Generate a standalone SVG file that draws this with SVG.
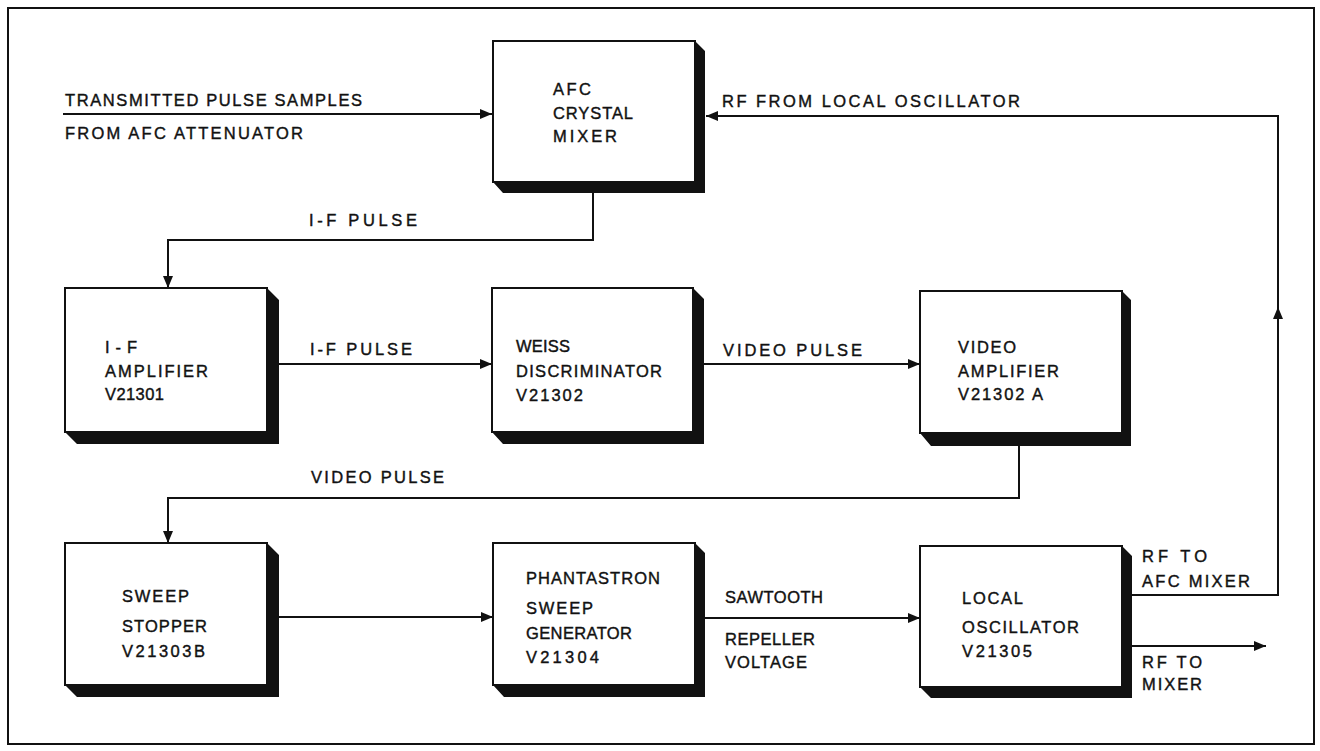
<svg xmlns="http://www.w3.org/2000/svg" width="1320" height="751" viewBox="0 0 1320 751">
<style>
text{font-family:"Liberation Sans",Arial,sans-serif;font-size:16.5px;fill:#111;stroke:#111;stroke-width:0.4}
.box{fill:#fff;stroke:#111;stroke-width:2}
.sh{fill:#111}
.ln{fill:none;stroke:#111;stroke-width:2}
</style>
<defs>
<marker id="ah" viewBox="0 0 12 10" refX="12" refY="5" markerWidth="12" markerHeight="10" markerUnits="userSpaceOnUse" orient="auto">
<path d="M0,0 L12,5 L0,10 z" fill="#111"/>
</marker>
</defs>
<rect x="0" y="0" width="1320" height="751" fill="#fff"/>
<rect x="8" y="8" width="1306" height="736" fill="none" stroke="#111" stroke-width="2"/>

<g id="connectors">
<line class="ln" x1="63" y1="114" x2="492" y2="114" marker-end="url(#ah)"/>
<polyline class="ln" points="1132,595 1278,595 1278,116 706,116" marker-end="url(#ah)"/>
<line class="ln" x1="1278" y1="400" x2="1278" y2="307" marker-end="url(#ah)"/>
<polyline class="ln" points="593,193 593,240 168,240 168,288" marker-end="url(#ah)"/>
<line class="ln" x1="279" y1="364" x2="492" y2="364" marker-end="url(#ah)"/>
<line class="ln" x1="704" y1="364" x2="920" y2="364" marker-end="url(#ah)"/>
<polyline class="ln" points="1019,446 1019,498 168,498 168,543" marker-end="url(#ah)"/>
<line class="ln" x1="279" y1="617" x2="493" y2="617" marker-end="url(#ah)"/>
<line class="ln" x1="705" y1="618" x2="920" y2="618" marker-end="url(#ah)"/>
<line class="ln" x1="1132" y1="646" x2="1266" y2="646" marker-end="url(#ah)"/>
<text x="65" y="106" textLength="297">TRANSMITTED PULSE SAMPLES</text>
<text x="65" y="139" textLength="238">FROM  AFC  ATTENUATOR</text>
<text x="722" y="107" textLength="298">RF FROM LOCAL OSCILLATOR</text>
<text x="309" y="226" textLength="108">I-F  PULSE</text>
<text x="310" y="355" textLength="102">I-F  PULSE</text>
<text x="723" y="356" textLength="139">VIDEO  PULSE</text>
<text x="311" y="483" textLength="133">VIDEO  PULSE</text>
<text x="725" y="603" textLength="98">SAWTOOTH</text>
<text x="725" y="645" textLength="90">REPELLER</text>
<text x="725" y="668" textLength="82">VOLTAGE</text>
<text x="1142" y="562" textLength="65">RF  TO</text>
<text x="1142" y="587" textLength="108">AFC  MIXER</text>
<text x="1142" y="668" textLength="60">RF  TO</text>
<text x="1142" y="690" textLength="60">MIXER</text>
</g>

<g id="afc-mixer">
<polygon class="sh" points="695,41 705,51 705,193 503,193 493,182 695,182"/>
<rect class="box" x="493" y="41" width="202" height="141"/>
<text x="553" y="95" textLength="38">AFC</text>
<text x="553" y="119" textLength="80">CRYSTAL</text>
<text x="553" y="142" textLength="64">MIXER</text>
</g>

<g id="if-amplifier">
<polygon class="sh" points="267,288 279,300 279,444 77,444 65,432 267,432"/>
<rect class="box" x="65" y="288" width="202" height="144"/>
<text x="105" y="353" textLength="32">I-F</text>
<text x="105" y="377" textLength="103">AMPLIFIER</text>
<text x="105" y="400" textLength="59">V21301</text>
</g>

<g id="weiss-discriminator">
<polygon class="sh" points="693,288 704,299 704,444 503,444 492,432 693,432"/>
<rect class="box" x="492" y="288" width="201" height="144"/>
<text x="516" y="352" textLength="54">WEISS</text>
<text x="516" y="377" textLength="146">DISCRIMINATOR</text>
<text x="516" y="401" textLength="67">V21302</text>
</g>

<g id="video-amplifier">
<polygon class="sh" points="1122,291 1131,300 1131,446 931,446 920,433 1122,433"/>
<rect class="box" x="920" y="291" width="202" height="142"/>
<text x="958" y="353" textLength="58">VIDEO</text>
<text x="958" y="377" textLength="101">AMPLIFIER</text>
<text x="958" y="400" textLength="85">V21302 A</text>
</g>

<g id="sweep-stopper">
<polygon class="sh" points="267,543 279,555 279,697 77,697 65,685 267,685"/>
<rect class="box" x="65" y="543" width="202" height="142"/>
<text x="122" y="602" textLength="67">SWEEP</text>
<text x="122" y="632" textLength="85">STOPPER</text>
<text x="122" y="657" textLength="83">V21303B</text>
</g>

<g id="phantastron">
<polygon class="sh" points="695,543 705,553 705,697 504,697 493,685 695,685"/>
<rect class="box" x="493" y="543" width="202" height="142"/>
<text x="526" y="584" textLength="134">PHANTASTRON</text>
<text x="526" y="614" textLength="67">SWEEP</text>
<text x="526" y="639" textLength="106">GENERATOR</text>
<text x="526" y="663" textLength="73">V21304</text>
</g>

<g id="local-oscillator">
<polygon class="sh" points="1122,546 1132,556 1132,698 931,698 920,687 1122,687"/>
<rect class="box" x="920" y="546" width="202" height="141"/>
<text x="962" y="604" textLength="61">LOCAL</text>
<text x="962" y="633" textLength="117">OSCILLATOR</text>
<text x="962" y="657" textLength="70">V21305</text>
</g>
</svg>
